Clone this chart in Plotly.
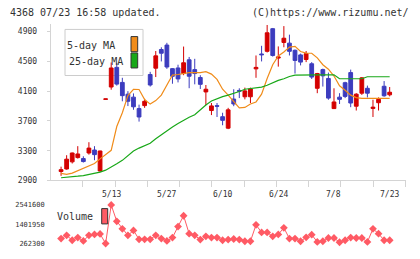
import plotly.graph_objects as go

dates = ["4/24","4/25","4/26","4/30","5/1","5/2","5/7","5/8","5/9","5/10",
         "5/13","5/14","5/15","5/16","5/17","5/20","5/21","5/22","5/23","5/24",
         "5/27","5/28","5/29","5/30","5/31","6/3","6/4","6/5","6/6","6/7",
         "6/10","6/11","6/12","6/13","6/14","6/17","6/18","6/19","6/20","6/21",
         "6/24","6/25","6/26","6/27","6/28","7/1","7/2","7/3","7/4","7/5",
         "7/8","7/9","7/10","7/11","7/12","7/16","7/17","7/18","7/19","7/22","7/23"]
tick_labels = ["5/13","5/27","6/10","6/24","7/8","7/23"]

open_ = [2840,3020,3054,3150,3207,3194,3269,3309,3028,3990,
         4156,4420,4218,4060,4020,3866,3906,4324,4409,4660,
         4720,4403,4412,4337,4522,4390,4284,4090,3840,3905,
         3757,3603,3994,4110,4025,4025,4400,4600,4636,4940,
         4545,4755,4746,4650,4588,4526,4469,4139,4390,4271,
         3866,4020,4214,4350,3898,4073,4139,3868,3945,4166,4051]
high = [2850,3085,3239,3275,3361,3225,3414,3361,3300,3996,
        4486,4480,4280,4100,4070,3919,3998,4360,4640,4690,
        4750,4410,4456,4700,4560,4535,4315,4183,3941,3941,
        3810,3876,4126,4139,4148,4148,4580,4710,4990,4950,
        4702,4975,4860,4660,4605,4640,4491,4346,4403,4350,
        4139,4073,4227,4390,4073,4290,4175,3985,4016,4236,4156]
low = [2836,2962,3045,3128,3194,3141,3247,3172,3015,3990,
       4120,4175,3964,3900,3850,3691,3876,4162,4290,4500,
       4400,4200,4218,4315,4140,4192,4130,3911,3779,3753,
       3642,3590,3898,4007,3990,3941,4280,4500,4620,4565,
       4430,4690,4580,4337,4447,4491,4264,4073,4162,3985,
       3860,3928,4007,3885,3840,4050,4016,3753,3840,4025,4030]
close = [2846,3045,3186,3269,3256,3154,3335,3247,3296,3996,
         4412,4195,4040,3964,3890,3753,3964,4183,4575,4610,
         4425,4300,4265,4482,4301,4337,4192,4126,3902,3898,
         3708,3849,3928,4100,4104,4130,4420,4590,4885,4580,
         4560,4812,4636,4513,4491,4605,4290,4337,4306,4007,
         3955,3990,4030,3941,4060,4279,4073,3885,3990,4038,4086]

ma5 = [None,2996,2983,2999,3032,3065,3090,3127,3190,3252,
       3305,3625,3810,4040,4126,4123,3988,3926,3974,4047,
       4192,4317,4324,4337,4350,4350,4350,4363,4330,4258,
       4126,4047,3968,3876,3882,3928,3955,4060,4271,4456,
       4574,4627,4693,4702,4634,4611,4610,4548,4456,4396,
       4304,4172,4113,4047,4014,4003,4003,4003,4007,4011,4003]
ma25 = [None,2936,2940,2946,2957,2966,2979,2992,3012,3038,
        3078,3124,3170,3236,3296,3335,3368,3401,3460,3513,
        3572,3619,3665,3711,3750,3783,3856,3915,3968,4001,
        4027,4047,4067,4096,4126,4135,4146,4155,4179,4212,
        4245,4267,4298,4317,4320,4320,4320,4320,4320,4320,
        4320,4267,4267,4267,4267,4267,4294,4294,4294,4294,4294]

volume = [None,552300,743700,453700,610300,413100,743700,801700,830700,262300,
          2541600,1573000,1132000,743700,1033600,511700,511700,511700,743700,552300,
          413100,610300,1265600,1903600,842300,743700,494300,685700,610300,610300,
          453700,494300,529100,494300,395700,395700,1364200,917700,917700,685700,
          801700,1190000,552300,552300,395700,627700,784300,355100,395700,587100,
          587100,337700,453700,610300,587100,587100,355100,1132000,842300,453700,453700]
vol_ticks = [262300, 1401950, 2541600]

RED = "#d40000"
BLUE = "#3c3cbe"
ORANGE = "#f08c1a"
GREEN = "#18a818"
PINK = "#ff5a64"
GRID = "#d4d4d4"
TXT = "#333333"
FONT = "DejaVu Sans Mono"

W, H = 420, 259
def px(x): return x / W
def py(y): return 1 - y / H

n = len(dates)
idx = list(range(n))
X0, X1 = -0.862, 62.84
Y_BOT, Y_TOP = 184, 24
SCALE = 0.07585
y_range = [2900, 2900 + (Y_BOT - Y_TOP) / SCALE]

fig = go.Figure()
fig.add_trace(go.Candlestick(
    x=idx[1:], open=open_[1:], high=high[1:], low=low[1:], close=close[1:],
    increasing=dict(line=dict(color=RED, width=1), fillcolor=RED),
    decreasing=dict(line=dict(color=BLUE, width=1), fillcolor=BLUE),
    whiskerwidth=0, showlegend=False, hoverinfo="skip"))
# first candle lies below the axis floor
fig.add_trace(go.Scatter(x=idx[:1], y=close[:1], mode="markers",
    marker=dict(symbol="line-ew", size=5, line=dict(color=RED, width=2)),
    cliponaxis=False, showlegend=False, hoverinfo="skip"))
fig.add_trace(go.Scatter(x=idx, y=ma5, mode="lines",
    line=dict(color=ORANGE, width=1.2), showlegend=False, hoverinfo="skip"))
fig.add_trace(go.Scatter(x=idx, y=ma25, mode="lines",
    line=dict(color=GREEN, width=1.2), showlegend=False, hoverinfo="skip"))
fig.add_trace(go.Scatter(x=idx, y=volume, mode="lines+markers", xaxis="x2", yaxis="y2",
    line=dict(color=PINK, width=1), marker=dict(symbol="diamond", size=6, color=PINK),
    cliponaxis=False, showlegend=False, hoverinfo="skip"))

tickpos = [X0 + (X1 - X0) * k / 11 for k in range(1, 12)]
tickidx = [dates.index(t) for t in tick_labels]

vb, vt = 252, 205
v_per_px = (vol_ticks[2] - vol_ticks[0]) / (248.3 - 209)
v_range = [vol_ticks[0] - (vb - 248.3) * v_per_px, vol_ticks[0] + (248.3 - vt) * v_per_px]

fig.update_layout(
    width=W, height=H, margin=dict(l=0, r=0, t=0, b=0),
    paper_bgcolor="white", plot_bgcolor="white",
    boxgap=0.25, boxgroupgap=0.1,
    font=dict(family=FONT, color=TXT, size=8),
    xaxis=dict(domain=[px(50.7), px(405.5)], range=[X0, X1], rangeslider=dict(visible=False),
               showgrid=False, zeroline=False, showline=True, linecolor=GRID, linewidth=1,
               tickvals=tickpos, ticks="outside", ticklen=6, tickcolor=GRID,
               showticklabels=False, anchor="y"),
    yaxis=dict(domain=[py(Y_BOT), py(Y_TOP)], range=y_range, showgrid=False, zeroline=False,
               showline=True, linecolor=GRID, linewidth=1,
               tickvals=[2900, 3300, 3700, 4100, 4500, 4900], ticks="outside", ticklen=3,
               tickcolor=GRID, ticklabelstandoff=8, tickfont=dict(size=8, color=TXT)),
    xaxis2=dict(domain=[px(50.7), px(405.5)], range=[X0, X1], matches="x", anchor="y2",
                showgrid=False, zeroline=False, showline=False, showticklabels=False, ticks=""),
    yaxis2=dict(domain=[py(vb), py(vt)], range=v_range, showgrid=False, zeroline=False,
                showline=False, tickvals=vol_ticks, ticktext=[str(v) for v in vol_ticks],
                ticks="", ticklabelstandoff=5, tickfont=dict(size=7, color=TXT)),
)

ann = []
for t in tick_labels:
    ann.append(dict(x=dates.index(t), y=py(198.5), xref="x", yref="paper", text=t,
                    showarrow=False, font=dict(size=8, color=TXT), xanchor="center", yanchor="middle"))
ann.append(dict(x=px(8), y=py(13), xref="paper", yref="paper", text="4368 07/23 16:58 updated.",
                showarrow=False, font=dict(size=10, color=TXT), xanchor="left", yanchor="middle"))
ann.append(dict(x=px(411), y=py(13), xref="paper", yref="paper", text="(C)https://www.rizumu.net/",
                showarrow=False, font=dict(size=10, color=TXT), xanchor="right", yanchor="middle"))
ann.append(dict(x=px(117), y=py(46), xref="paper", yref="paper", text="5-day MA",
                showarrow=False, font=dict(size=10, color=TXT), xanchor="right", yanchor="middle"))
ann.append(dict(x=px(125), y=py(63), xref="paper", yref="paper", text="25-day MA",
                showarrow=False, font=dict(size=10, color=TXT), xanchor="right", yanchor="middle"))
ann.append(dict(x=px(95), y=py(221), xref="paper", yref="paper", text="Volume",
                showarrow=False, font=dict(size=10, color=TXT), xanchor="right", yanchor="middle"))

shapes = [
    dict(type="rect", xref="paper", yref="paper", x0=px(65), x1=px(143), y0=py(77), y1=py(30),
         line=dict(color="#cccccc", width=1), fillcolor="white", layer="below"),
    dict(type="rect", xref="paper", yref="paper", x0=px(131), x1=px(137.7), y0=py(52.7), y1=py(37.3),
         line=dict(color="#333333", width=1), fillcolor=ORANGE),
    dict(type="rect", xref="paper", yref="paper", x0=px(131), x1=px(137.7), y0=py(69.3), y1=py(54),
         line=dict(color="#333333", width=1), fillcolor=GREEN),
    dict(type="rect", xref="paper", yref="paper", x0=px(101.7), x1=px(107.7), y0=py(228.3), y1=py(212.7),
         line=dict(color="#333333", width=1), fillcolor=PINK),
]
fig.update_layout(annotations=ann, shapes=shapes)
fig.write_html("out.html")
